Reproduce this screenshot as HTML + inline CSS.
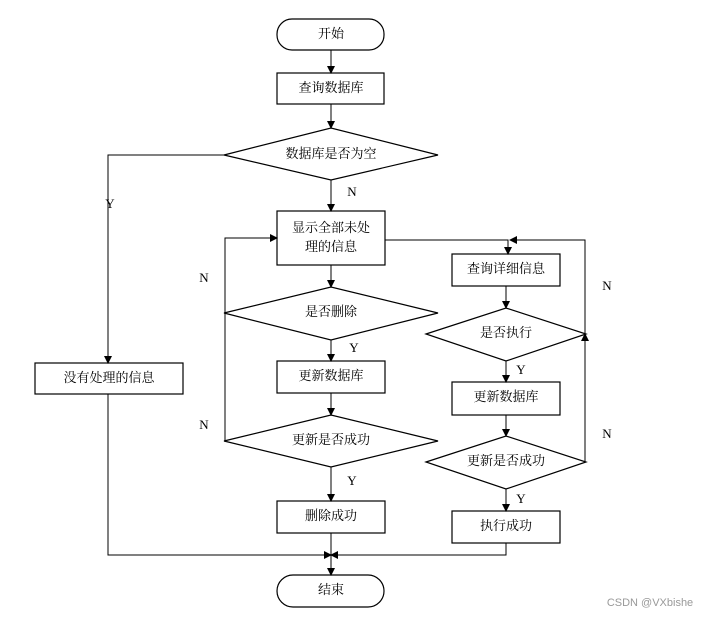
<!DOCTYPE html>
<html><head><meta charset="utf-8"><style>
body{margin:0;background:#fff;width:712px;height:617px;overflow:hidden}
text{font-family:"Liberation Serif","Noto Serif CJK SC","Noto Sans CJK SC",serif;font-size:13px;fill:#000}
.c{text-anchor:middle;dominant-baseline:middle}
</style></head><body>
<svg width="712" height="617" viewBox="0 0 712 617">
<defs><marker id="a" markerWidth="8" markerHeight="8" refX="7" refY="4" orient="auto" markerUnits="userSpaceOnUse"><path d="M0,0 L8,4 L0,8 z" fill="#000"/></marker></defs>
<g fill="none" stroke="#000" stroke-width="1.2">
<rect x="277" y="19" width="107" height="31" rx="15"/>
<rect x="277" y="73" width="107" height="31"/>
<polygon points="224,155 331,128 438,155 331,180"/>
<rect x="277" y="211" width="108" height="54"/>
<polygon points="224,313 331,287 438,313 331,340"/>
<rect x="277" y="361" width="108" height="32"/>
<polygon points="224,441 331,415 438,441 331,467"/>
<rect x="277" y="501" width="108" height="32"/>
<rect x="277" y="575" width="107" height="32" rx="16"/>
<rect x="452" y="254" width="108" height="32"/>
<polygon points="426,334 506,308 586,334 506,361"/>
<rect x="452" y="382" width="108" height="33"/>
<polygon points="426,462 506,436 586,462 506,489"/>
<rect x="452" y="511" width="108" height="32"/>
<rect x="35" y="363" width="148" height="31"/>
</g>
<g fill="none" stroke="#000" stroke-width="1" marker-end="url(#a)">
<path d="M331,50V73"/><path d="M331,104V128"/><path d="M331,180V211"/>
<path d="M331,265V287"/><path d="M331,340V361"/><path d="M331,393V415"/><path d="M331,467V501"/><path d="M331,533V575"/>
<path d="M224,155H108V363"/>
<path d="M224,441H225V238H277"/>
<path d="M385,240H508V254"/>
<path d="M586,334H585V240H510"/>
<path d="M586,462H585V334"/>
<path d="M506,286V308"/><path d="M506,361V382"/><path d="M506,415V436"/><path d="M506,489V511"/>
<path d="M108,394V555H331"/>
<path d="M506,543V555H331"/>
</g>
<path d="M224,313H225" stroke="#000"/>
<text x="331" y="35" class="c">开始</text>
<text x="331" y="89" class="c">查询数据库</text>
<text x="331" y="155" class="c">数据库是否为空</text>
<text x="331" y="229" class="c">显示全部未处</text>
<text x="331" y="248" class="c">理的信息</text>
<text x="331" y="313" class="c">是否删除</text>
<text x="331" y="377" class="c">更新数据库</text>
<text x="331" y="441" class="c">更新是否成功</text>
<text x="331" y="517" class="c">删除成功</text>
<text x="331" y="591" class="c">结束</text>
<text x="506" y="270" class="c">查询详细信息</text>
<text x="506" y="334" class="c">是否执行</text>
<text x="506" y="398" class="c">更新数据库</text>
<text x="506" y="462" class="c">更新是否成功</text>
<text x="506" y="527" class="c">执行成功</text>
<text x="109" y="379" class="c">没有处理的信息</text>
<text x="110" y="205" class="c">Y</text>
<text x="352" y="193" class="c">N</text>
<text x="204" y="279" class="c">N</text>
<text x="204" y="426" class="c">N</text>
<text x="607" y="287" class="c">N</text>
<text x="607" y="435" class="c">N</text>
<text x="354" y="349" class="c">Y</text>
<text x="352" y="482" class="c">Y</text>
<text x="521" y="371" class="c">Y</text>
<text x="521" y="500" class="c">Y</text>
<text x="650" y="603" class="c" style="font-family:'Liberation Sans',sans-serif;font-size:11px;fill:#999">CSDN @VXbishe</text>
</svg>
</body></html>
